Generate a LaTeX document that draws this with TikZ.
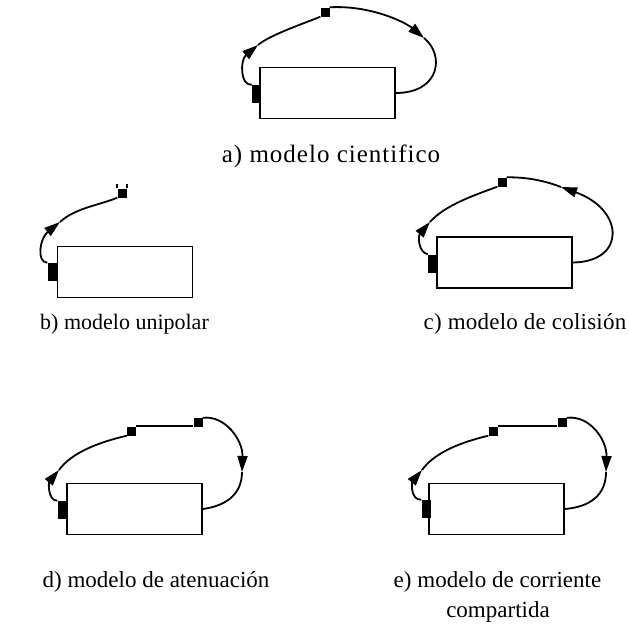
\documentclass[tikz,border=0pt]{standalone}
\usepackage{fontspec}
\setmainfont{Liberation Serif}
\usepackage{tikz}
\usetikzlibrary{arrows.meta}

\begin{document}
\begin{tikzpicture}[
  x=1pt, y=-1pt,
  cell/.style={draw, line width=1.5pt, minimum width=135pt, minimum height=51pt, inner sep=0pt},
  plug/.style={fill=black, minimum width=9pt, minimum height=18pt, inner sep=0pt},
  joint/.style={fill=black, minimum size=9pt, inner sep=0pt},
  wire/.style={line width=1.8pt},
  flow/.style={wire, -{Triangle[length=16pt,width=10pt]}},
  caption/.style={anchor=base, inner sep=0pt, font=\fontsize{23}{30}\selectfont}
]
\useasboundingbox (0,0) rectangle (629,632);

% a) modelo cientifico
\node[cell] (ra) at (327.5,93) {};
\node[plug] (pa) at (256.5,94) {};
\node[joint] (ja) at (325,12) {};
\coordinate (a1) at (258,45);
\coordinate (a2) at (424,38);
\draw[flow] (pa.north west) .. controls (240,86) and (240,60) .. (a1);
\draw[wire] (a1) .. controls (270,35) and (300,25) .. (ja.south west);
\draw[flow] (ja.north east) .. controls (370,5) and (405,22) .. (a2);
\draw[wire] (a2) .. controls (445,55) and (440,93) .. (ra.east);
\node[caption, font=\fontsize{25}{30}\selectfont] (la) at (331,162)
  {\addfontfeature{LetterSpace=4}a) modelo cientifico};

% b) modelo unipolar
\node[cell] (rb) at (125,272) {};
\node[plug] (pb) at (52,272) {};
\node[joint] (jb) at (122,193) {};
\coordinate (b1) at (60,222);
\draw[flow] (pb.north west) .. controls (36,262) and (40,238) .. (b1);
\draw[wire] (b1) .. controls (75,208) and (100,205) .. (jb.south west);
\draw[line width=2pt] (jb.north west) -- ++(0,-4);
\draw[line width=2pt] (jb.north east) -- ++(0,-4);
\node[caption, font=\fontsize{22}{30}\selectfont] (lb) at (124.5,329) {b) modelo unipolar};

% c) modelo de colision
\node[cell] (rc) at (504.5,262.5) {};
\node[plug] (pc) at (432.5,263.5) {};
\node[joint] (jc) at (502,182) {};
\coordinate (c1) at (430,222);
\coordinate (c2) at (561,187);
\draw[flow] (pc.north west) .. controls (418,252) and (418,236) .. (c1);
\draw[wire] (c1) .. controls (445,205) and (475,195) .. (jc.south west);
\draw[wire] (jc.north east) .. controls (530,177) and (548,182) .. (c2);
\draw[flow] (rc.east) .. controls (626,262) and (625,210) .. (c2);
\node[caption] (lc) at (525,329) {\addfontfeature{LetterSpace=1}c) modelo de colisión};

% d) modelo de atenuacion
\node[cell] (rd) at (134.5,509) {};
\node[plug] (pd) at (62,510) {};
\node[joint] (jd) at (131.5,431) {};
\node[joint] (kd) at (198,422.5) {};
\coordinate (d1) at (59,470);
\coordinate (d2) at (242,472);
\draw[flow] (pd.north west) .. controls (47,500) and (49,482) .. (d1);
\draw[wire] (d1) .. controls (72,452) and (100,442) .. (jd.south west);
\draw[wire] (jd.north east) -- (jd.north east -| kd.west);
\draw[flow] (kd.north east) .. controls (225,415) and (243,440) .. (d2);
\draw[wire] (d2) .. controls (242,495) and (225,506) .. (rd.east);
\node[caption] (ld) at (156,587) {d) modelo de atenuación};

% e) modelo de corriente compartida
\node[cell] (re) at (496.5,509) {};
\node[plug] (pe) at (426,509) {};
\node[joint] (je) at (493,431) {};
\node[joint] (ke) at (562,422.5) {};
\coordinate (e1) at (422,470);
\coordinate (e2) at (606,472);
\draw[flow] (pe.north west) .. controls (410,500) and (412,482) .. (e1);
\draw[wire] (e1) .. controls (435,452) and (462,442) .. (je.south west);
\draw[wire] (je.north east) -- (je.north east -| ke.west);
\draw[flow] (ke.north east) .. controls (590,415) and (607,440) .. (e2);
\draw[wire] (e2) .. controls (606,495) and (590,507) .. (re.east);
\node[caption] (le) at (497.5,587) {e) modelo de corriente};
\node[caption] (lf) at (498,617) {compartida};
\end{tikzpicture}
\end{document}
